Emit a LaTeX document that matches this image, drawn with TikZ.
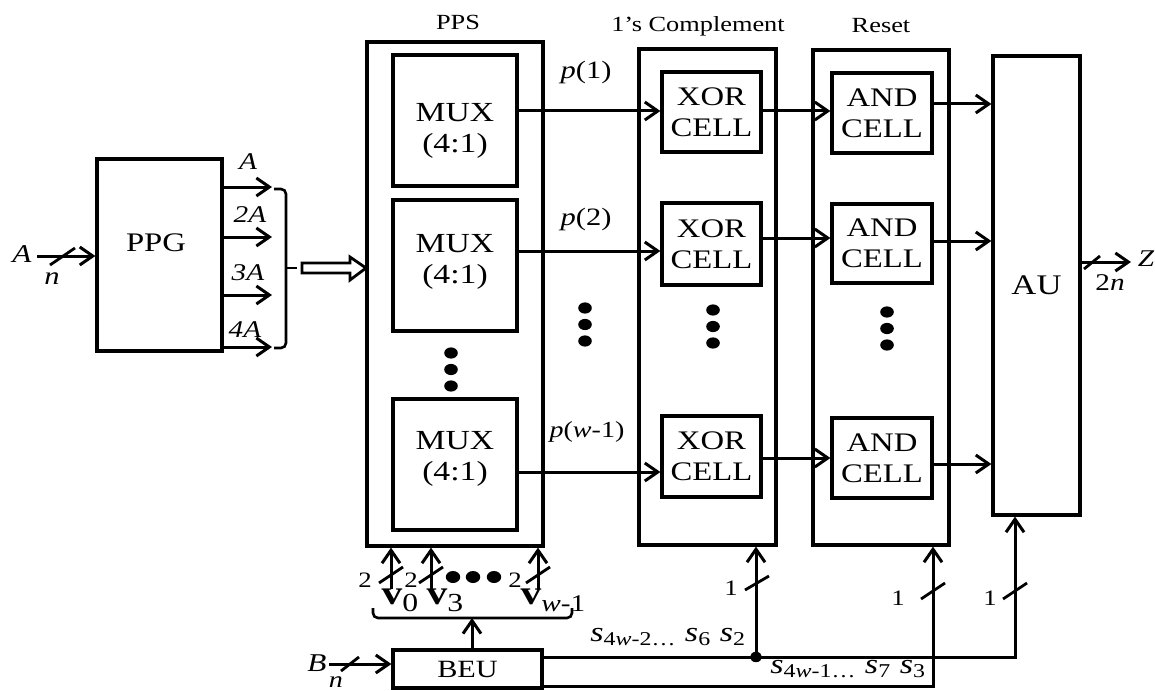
\documentclass[tikz,border=0pt]{standalone}
\usepackage{fontspec}
\setmainfont{Liberation Serif}[FakeStretch=1.22]
\usetikzlibrary{arrows.meta}
\begin{document}
\begin{tikzpicture}[x=0.5pt,y=-0.5pt,
  box/.style={draw,line width=1.6pt,inner sep=0pt,align=center},
  arr/.style={line width=1.5pt,-{Straight Barb[length=6.5pt,width=9pt]}},
  sl/.style={line width=1.4pt},
  lbl/.style={inner sep=0pt,align=center},
  fmux/.style={font=\fontsize{13.8}{15.5}\selectfont},
  fcell/.style={font=\fontsize{13.4}{15.5}\selectfont},
  ftitle/.style={font=\fontsize{10.8}{12}\selectfont},
  flab/.style={font=\fontsize{12}{14}\selectfont},
  fnum/.style={font=\fontsize{11}{13}\selectfont},
  fsig/.style={font=\fontsize{14}{16}\selectfont}]
\useasboundingbox (0,0) rectangle (1155,690);

% ---------------- boxes ----------------
\node[box,minimum width=62.5pt,minimum height=96pt] (ppg) at (159.5,255) {};
\node[lbl,font=\fontsize{13.4}{15}\selectfont] (ppgt) at (156,243) {PPG};

\node[box,minimum width=88pt,minimum height=252pt] (pps) at (455,294) {};
\node[box,minimum width=62pt,minimum height=65.5pt] (mux1) at (455,120.5) {};
\node[box,minimum width=62pt,minimum height=65.5pt] (mux2) at (455,265.5) {};
\node[box,minimum width=62pt,minimum height=65.5pt] (mux3) at (455,464.5) {};
\node[lbl,fmux] (mt1) at (455,131) {MUX\\(4:1)};
\node[lbl,fmux] (mt2) at (455,262) {MUX\\(4:1)};
\node[lbl,fmux] (mt3) at (455,459) {MUX\\(4:1)};

\node[box,minimum width=68.5pt,minimum height=248pt] (comp) at (707.5,297) {};
\node[box,fcell,minimum width=49.5pt,minimum height=40pt] (xor1) at (711.5,112) {XOR\\CELL};
\node[box,fcell,minimum width=49.5pt,minimum height=41pt] (xor2) at (711.5,244) {XOR\\CELL};
\node[box,fcell,minimum width=49.5pt,minimum height=40.5pt] (xor3) at (711.5,456.5) {XOR\\CELL};

\node[box,minimum width=68pt,minimum height=247.5pt] (reset) at (881,297.5) {};
\node[box,fcell,minimum width=50pt,minimum height=40pt] (and1) at (882,113) {AND\\CELL};
\node[box,fcell,minimum width=50pt,minimum height=39.5pt] (and2) at (882,243.5) {AND\\CELL};
\node[box,fcell,minimum width=50pt,minimum height=40pt] (and3) at (882,458) {AND\\CELL};

\node[box,minimum width=43.5pt,minimum height=229.5pt,font=\fontsize{14.2}{16}\selectfont] (au) at (1036.5,285.5) {AU};
\node[box,minimum width=74.5pt,minimum height=19pt,font=\fontsize{12.4}{13}\selectfont] (beu) at (467.5,669) {BEU};

% ---------------- titles ----------------
\node[lbl,ftitle] (tpps) at (458,22) {PPS};
\node[lbl,ftitle] (tcomp) at (698,26) {1’s Complement};
\node[lbl,ftitle] (treset) at (881,26) {Reset};

% ---------------- input A ----------------
\node[lbl,font=\fontsize{12.8}{14}\selectfont] (ain) at (22,254) {\textit{A}};
\node[lbl,font=\fontsize{12.5}{14}\selectfont] (an) at (52,279) {\textit{n}};
\coordinate (a0) at (37,256);
\draw[arr] (a0) -- (ppg.west |- a0);
\draw[sl] (50,265) -- (75,248);

% ---------------- PPG outputs ----------------
\foreach \y/\t/\lx/\ly in {187/A/248/162,237/2A/250/215,295/3A/248/273,347/4A/245/330}{
  \coordinate (o\y) at (272,\y);
  \draw[arr] (ppg.east |- o\y) -- (o\y);
  \node[lbl,flab] at (\lx,\ly) {\textit{\t}};
}
\draw[line width=1.3pt,rounded corners=2.5pt] (274,189) -- (286,189) -- (286,348) -- (274,348);
\draw[line width=1.3pt] (286,268) -- (297,268);
\draw[line width=1.4pt] (302,263) -- (350,263) -- (350,257) -- (366,268) -- (350,280) -- (350,273) -- (302,273) -- cycle;

% ---------------- p labels and datapath ----------------
\node[lbl,font=\fontsize{12.5}{14}\selectfont] (p1) at (586,72) {\textit{p}(1)};
\node[lbl,font=\fontsize{12.5}{14}\selectfont] (p2) at (586,219) {\textit{p}(2)};
\node[lbl,font=\fontsize{11.5}{14}\selectfont] (p3) at (587,432) {\textit{p}(\textit{w}-1)};

\draw[arr] (mux1.east |- 0,111) -- (xor1.west |- 0,111);
\draw[arr] (mux2.east |- 0,251) -- (xor2.west |- 0,251);
\draw[arr] (mux3.east |- 0,472) -- (xor3.west |- 0,472);
\draw[arr] (xor1.east |- 0,111) -- (and1.west |- 0,111);
\draw[arr] (xor2.east |- 0,238) -- (and2.west |- 0,238);
\draw[arr] (xor3.east |- 0,458) -- (and3.west |- 0,458);
\draw[arr] (and1.east |- 0,104) -- (au.west |- 0,104);
\draw[arr] (and2.east |- 0,241) -- (au.west |- 0,241);
\draw[arr] (and3.east |- 0,464) -- (au.west |- 0,464);

% ---------------- dots ----------------
\foreach \x/\a in {451/353,585/308,713/310,887/312}{
  \foreach \d in {0,16.5,33}{
    \fill (\x,\a+\d) ellipse[x radius=3.4pt,y radius=2.8pt];
  }
}
\foreach \x in {453,473,494}{\fill (\x,577) ellipse[x radius=3.6pt,y radius=3pt];}

% ---------------- output Z ----------------
\coordinate (zend) at (1131,262);
\draw[arr] (au.east |- zend) -- (zend);
\draw[sl] (1084,269) -- (1100,256);
\node[lbl,font=\fontsize{12}{13}\selectfont] (z) at (1146,259) {\textit{Z}};
\node[lbl,font=\fontsize{12}{13}\selectfont] (zn) at (1110,283) {2\textit{n}};

% ---------------- v inputs to PPS ----------------
\foreach \x/\n in {391/a,431/b,538/c}{
  \coordinate (v\n) at (\x,589);
  \draw[arr] (v\n) -- (v\n |- pps.south);
  \draw[sl] (\x-12,583) -- (\x+12,567);
}
\node[lbl,fnum] (two1) at (365,580) {2};
\node[lbl,fnum] (two2) at (411,580) {2};
\node[lbl,fnum] (two3) at (515,580) {2};
\node[lbl,font=\fontsize{17}{18}\selectfont] (v0) at (400,600) {\textbf{v}\raisebox{-0.2em}{\fontsize{13}{14}\selectfont 0}};
\node[lbl,font=\fontsize{17}{18}\selectfont] (v3) at (445,600) {\textbf{v}\raisebox{-0.2em}{\fontsize{13}{14}\selectfont 3}};
\node[lbl,font=\fontsize{17}{18}\selectfont] (vw) at (553,600) {\textbf{v}\raisebox{-0.2em}{\fontsize{12}{14}\selectfont\textit{w}-1}};
\coordinate (btip) at (472,618);
\draw[line width=1.3pt,rounded corners=2.5pt] (373,608) -- (373,618) -- (572,618) -- (572,608);
\draw[arr] (btip |- beu.north) -- (btip);

% ---------------- B input ----------------
\node[lbl,font=\fontsize{12.8}{14}\selectfont] (bin) at (317,663) {\textit{B}};
\node[lbl,font=\fontsize{11.5}{13}\selectfont] (bn) at (336,682) {\textit{n}};
\coordinate (b0) at (329,664);
\draw[arr] (b0) -- (beu.west |- b0);
\draw[sl] (341,671) -- (359,657);

% ---------------- sign lines ----------------
\coordinate (j1) at (756,657);
\coordinate (c1) at (1015,657);
\coordinate (c2) at (933,686);
\draw[arr] (beu.east |- j1) -- (c1) -- (c1 |- au.south);
\draw[arr] (j1) -- (j1 |- comp.south);
\draw[arr] (beu.east |- c2) -- (c2) -- (c2 |- reset.south);
\fill (j1) ellipse[x radius=3pt,y radius=2.6pt];
\draw[sl] (745,590) -- (769,576);
\draw[sl] (921,599) -- (945,583);
\draw[sl] (1003,599) -- (1027,583);
\node[lbl,fnum] (one1) at (731,588) {1};
\node[lbl,fnum] (one2) at (898,598) {1};
\node[lbl,fnum] (one3) at (990,598) {1};
\node[lbl,anchor=base west,fsig] (s2) at (590,641)
  {\textit{s}\textsubscript{4\textit{w}-2…}\ \textit{s}\textsubscript{6}\ \textit{s}\textsubscript{2}};
\node[lbl,anchor=base west,fsig] (s3) at (770,673)
  {\textit{s}\textsubscript{4\textit{w}-1…}\ \textit{s}\textsubscript{7}\ \textit{s}\textsubscript{3}};
\end{tikzpicture}
\end{document}
